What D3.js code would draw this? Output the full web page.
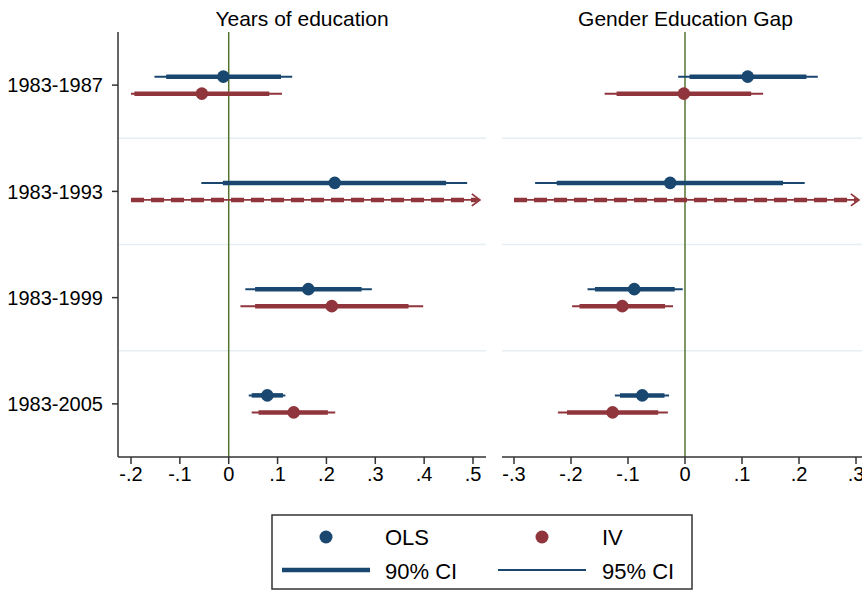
<!DOCTYPE html>
<html>
<head>
<meta charset="utf-8">
<script src="https://cdn.jsdelivr.net/npm/d3@7"></script>
<style>
  body { margin: 0; background: #fff; }
  svg { display: block; font-family: "Liberation Sans", Arial, sans-serif; }
</style>
</head>
<body>
<svg id="chart"></svg>
<script>
// periods on the y axis
const periods = ["1983-1987", "1983-1993", "1983-1999", "1983-2005"];

// each row: [estimate, lo95, lo90, hi90, hi95]
const eduOls = [
  [-0.011, -0.152, -0.128, 0.107, 0.130],
  [0.217, -0.056, -0.012, 0.445, 0.488],
  [0.163, 0.034, 0.054, 0.272, 0.293],
  [0.079, 0.041, 0.047, 0.111, 0.116]
];
const eduIv = [
  [-0.055, -0.200, -0.193, 0.083, 0.109],
  [null, -0.200, -0.200, 0.514, 0.514],   // off the scale -> dashed w/ arrow
  [0.211, 0.024, 0.054, 0.368, 0.398],
  [0.133, 0.047, 0.061, 0.203, 0.218]
];
const gapOls = [
  [0.110, -0.012, 0.008, 0.213, 0.233],
  [-0.026, -0.263, -0.225, 0.172, 0.210],
  [-0.089, -0.171, -0.158, -0.018, -0.004],
  [-0.075, -0.123, -0.114, -0.036, -0.028]
];
const gapIv = [
  [-0.002, -0.141, -0.120, 0.116, 0.137],
  [null, -0.300, -0.300, 0.305, 0.305],
  [-0.110, -0.198, -0.185, -0.035, -0.021],
  [-0.127, -0.223, -0.207, -0.047, -0.030]
];

const eduTicks = [-0.2, -0.1, 0, 0.1, 0.2, 0.3, 0.4, 0.5];
const gapTicks = [-0.3, -0.2, -0.1, 0, 0.1, 0.2, 0.3];
const titles = ["Years of education", "Gender Education Gap"];
const legendItems = ["OLS", "IV", "90% CI", "95% CI"];

(function(){

  const width = 862, height = 591;
  const navy = "#1a476f", maroon = "#90353b", zeroCol = "#55752f", grid = "#e6eef2";

  const svg = d3.select("#chart")
    .attr("width", width)
    .attr("height", height);

  svg.append("rect").attr("width", width).attr("height", height).attr("fill", "#fff");

  const yScale = d3.scaleBand().domain(periods).range([32, 457]);
  const yMid = p => yScale(p) + yScale.bandwidth() / 2;
  const offset = 8.5;

  // stata style labels: -.2, 0, .1
  const fmt = d => d === 0 ? "0" : (d < 0 ? "-" : "") + Math.abs(d).toFixed(1).replace(/^0/, "");

  const panels = [
    {title: titles[0], left: 118, right: 486, x: d3.scaleLinear().domain([-0.2, 0.5]).range([131, 473]),
     ticks: eduTicks, ols: eduOls, iv: eduIv, yAxis: true},
    {title: titles[1], left: 502, right: 869, x: d3.scaleLinear().domain([-0.3, 0.3]).range([514, 856]),
     ticks: gapTicks, ols: gapOls, iv: gapIv, yAxis: false}
  ];

  panels.forEach(p => {
    const g = svg.append("g");
    const x = p.x;

    // gridlines between periods
    g.selectAll(".grid")
      .data(periods.slice(1))
      .enter().append("line")
        .attr("x1", p.left).attr("x2", p.right)
        .attr("y1", d => yScale(d)).attr("y2", d => yScale(d))
        .attr("stroke", grid).attr("stroke-width", 1.5);

    // zero line
    g.append("line")
      .attr("x1", x(0)).attr("x2", x(0))
      .attr("y1", yScale.range()[0]).attr("y2", yScale.range()[1])
      .attr("stroke", zeroCol).attr("stroke-width", 1.5);

    // bottom axis
    const xAxis = g.append("g")
      .attr("transform", "translate(0," + yScale.range()[1] + ")");
    xAxis.append("line")
      .attr("x1", p.left).attr("x2", p.right)
      .attr("stroke", "#333").attr("stroke-width", 1.5);
    const tk = xAxis.selectAll(".tick").data(p.ticks).enter().append("g")
      .attr("transform", d => "translate(" + x(d) + ",0)");
    tk.append("line").attr("y2", 7).attr("stroke", "#333").attr("stroke-width", 1.5);
    tk.append("text")
      .attr("y", 24)
      .attr("text-anchor", "middle")
      .style("font-size", "20px")
      .attr("fill", "#000")
      .text(fmt);

    // left axis
    if (p.yAxis) {
      const yAx = g.append("g").attr("transform", "translate(" + p.left + ",0)");
      yAx.append("line")
        .attr("y1", yScale.range()[0]).attr("y2", yScale.range()[1])
        .attr("stroke", "#333").attr("stroke-width", 1.5);
      const yt = yAx.selectAll(".ytick").data(periods).enter().append("g")
        .attr("transform", d => "translate(0," + yMid(d) + ")");
      yt.append("line").attr("x2", -6).attr("stroke", "#333").attr("stroke-width", 1.5);
      yt.append("text")
        .attr("x", -15).attr("dy", "0.36em")
        .attr("text-anchor", "end")
        .style("font-size", "20px")
        .attr("fill", "#000")
        .text(d => d);
    }

    // title
    svg.append("text")
      .attr("x", (p.left + p.right) / 2).attr("y", 26)
      .attr("text-anchor", "middle")
      .style("font-size", "21px")
      .attr("fill", "#000")
      .text(p.title);

    // estimates
    [[p.ols, navy, -offset], [p.iv, maroon, offset]].forEach(([rows, col, off]) => {
      rows.forEach((r, i) => {
        const yy = yMid(periods[i]) + off;
        const [b, lo95, lo90, hi90, hi95] = r;
        if (b === null) {
          // estimate off the scale: thin line + dashed thick line + arrow
          g.append("line")
            .attr("x1", x(lo95)).attr("x2", x(hi95))
            .attr("y1", yy).attr("y2", yy)
            .attr("stroke", col).attr("stroke-width", 1.6);
          g.append("line")
            .attr("x1", x(lo90)).attr("x2", x(hi90) - 3)
            .attr("y1", yy).attr("y2", yy)
            .attr("stroke", col).attr("stroke-width", 4.5)
            .attr("stroke-dasharray", "13,7");
          const tx = x(hi95);
          g.append("path")
            .attr("d", `M${tx - 8},${yy - 6}L${tx},${yy}L${tx - 8},${yy + 6}`)
            .attr("fill", "none").attr("stroke", col).attr("stroke-width", 1.8);
          return;
        }
        g.append("line")
          .attr("x1", x(lo95)).attr("x2", x(hi95))
          .attr("y1", yy).attr("y2", yy)
          .attr("stroke", col).attr("stroke-width", 2);
        g.append("line")
          .attr("x1", x(lo90)).attr("x2", x(hi90))
          .attr("y1", yy).attr("y2", yy)
          .attr("stroke", col).attr("stroke-width", 4.5);
        g.append("circle")
          .attr("cx", x(b)).attr("cy", yy).attr("r", 6.3)
          .attr("fill", col);
      });
    });
  });

  // legend
  const lg = svg.append("g");
  lg.append("rect")
    .attr("x", 272).attr("y", 515).attr("width", 420).attr("height", 74)
    .attr("fill", "#fff").attr("stroke", "#333").attr("stroke-width", 1.5);

  const cols = [282, 498];
  [navy, maroon].forEach((c, i) => {
    lg.append("circle").attr("cx", cols[i] + 44).attr("cy", 537).attr("r", 6.5).attr("fill", c);
  });
  lg.append("line").attr("x1", cols[0]).attr("x2", cols[0] + 88)
    .attr("y1", 570).attr("y2", 570).attr("stroke", navy).attr("stroke-width", 4.5);
  lg.append("line").attr("x1", cols[1]).attr("x2", cols[1] + 88)
    .attr("y1", 570).attr("y2", 570).attr("stroke", navy).attr("stroke-width", 2);

  const textPos = [[385, 545], [602, 545], [385, 579], [602, 579]];
  lg.selectAll(".lt").data(legendItems).enter().append("text")
    .attr("x", (d, i) => textPos[i][0])
    .attr("y", (d, i) => textPos[i][1])
    .style("font-size", "22px")
    .attr("fill", "#000")
    .text(d => d);

})();
</script>
</body>
</html>
